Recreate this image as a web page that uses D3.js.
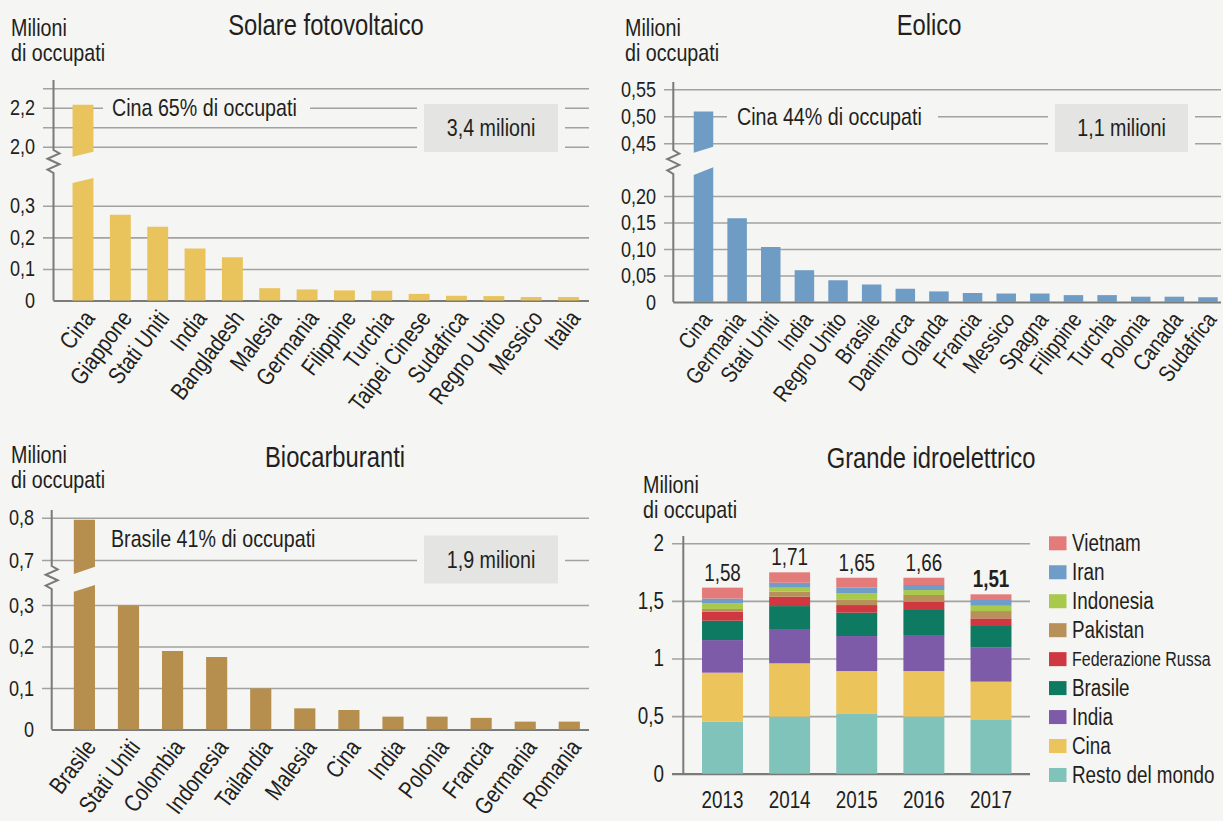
<!DOCTYPE html>
<html><head><meta charset="utf-8">
<script src="https://cdn.jsdelivr.net/npm/d3@7/dist/d3.min.js"></script>
<style>
body{margin:0;background:#f5f5f3;}
svg{display:block;}
text{font-family:"Liberation Sans","Arimo",Arial,sans-serif;fill:#231f20;}
</style></head><body>
<svg id="c" width="1223" height="821"></svg>
<script>
// ---------------- DATA ----------------
const solarCats = ["Cina","Giappone","Stati Uniti","India","Bangladesh","Malesia","Germania","Filippine","Turchia","Taipei Cinese","Sudafrica","Regno Unito","Messico","Italia"];
const solarVals = [2.216,0.272,0.234,0.165,0.137,0.039,0.035,0.032,0.031,0.021,0.015,0.014,0.011,0.011];
const solarTicksLow = [0,0.1,0.2,0.3];
const solarLabelsLow = ["0","0,1","0,2","0,3"];
const solarTicksUp = [2.0,2.1,2.2,2.3];
const solarLabelsUp = ["2,0","","2,2",""];

const windCats = ["Cina","Germania","Stati Uniti","India","Regno Unito","Brasile","Danimarca","Olanda","Francia","Messico","Spagna","Filippine","Turchia","Polonia","Canada","Sudafrica"];
const windVals = [0.509,0.158,0.104,0.060,0.041,0.033,0.025,0.020,0.017,0.016,0.016,0.013,0.013,0.010,0.010,0.009];
const windTicksLow = [0,0.05,0.10,0.15,0.20];
const windLabelsLow = ["0","0,05","0,10","0,15","0,20"];
const windTicksUp = [0.45,0.50,0.55];
const windLabelsUp = ["0,45","0,50","0,55"];

const bioCats = ["Brasile","Stati Uniti","Colombia","Indonesia","Tailandia","Malesia","Cina","India","Polonia","Francia","Germania","Romania"];
const bioVals = [0.795,0.299,0.189,0.175,0.099,0.051,0.047,0.031,0.031,0.028,0.019,0.019];
const bioTicksLow = [0,0.1,0.2,0.3];
const bioLabelsLow = ["0","0,1","0,2","0,3"];
const bioTicksUp = [0.7,0.8];
const bioLabelsUp = ["0,7","0,8"];

const hydroYears = ["2013","2014","2015","2016","2017"];
const hydroTotals = [1.58,1.71,1.65,1.66,1.51];
const hydroTotalLabels = ["1,58","1,71","1,65","1,66","1,51"];
const hydroKeys = ["Resto del mondo","Cina","India","Brasile","Federazione Russa","Pakistan","Indonesia","Iran","Vietnam"];
const hydroResto     = [0.451,0.495,0.524,0.495,0.472];
const hydroCina      = [0.426,0.463,0.367,0.396,0.327];
const hydroIndia     = [0.283,0.298,0.304,0.313,0.295];
const hydroBrasile   = [0.168,0.199,0.203,0.217,0.188];
const hydroRussia    = [0.078,0.081,0.066,0.072,0.066];
const hydroPakistan  = [0.024,0.044,0.049,0.058,0.064];
const hydroIndonesia = [0.048,0.035,0.052,0.043,0.046];
const hydroIran      = [0.042,0.043,0.050,0.044,0.050];
const hydroVietnam   = [0.095,0.090,0.086,0.063,0.049];
const hydroTicks = [0,0.5,1,1.5,2];
const hydroTickLabels = ["0","0,5","1","1,5","2"];
const hydroColors = ["#7fc3ba","#ecc45c","#7e5ba8","#0f7a62","#cf3840","#b8915a","#a8c94c","#6f9cc8","#e27b79"];

// ---------------- DRAW ----------------
const BG = "#f5f5f3", GRID = "#a2a2a0", AXIS = "#7a7a78", TXT = "#231f20";
const SX = 0.82; // horizontal condensing of the type
const svg = d3.select("#c");
svg.append("rect").attr("width",1223).attr("height",821).attr("fill",BG);

function txt(x, y, s, size, anchor, weight) {
  return svg.append("text").attr("x",x).attr("y",y).attr("font-size",size)
    .attr("text-anchor",anchor||"start").attr("font-weight",weight||"normal").text(s);
}

function drawBroken(o) {
  const g = svg.append("g");
  const x = d3.scalePoint().domain(o.cats).range(o.xRange);
  const bw = x.step() * o.barFrac;
  const yL = d3.scaleLinear().domain(o.lowDomain).range(o.lowRange);
  const yU = d3.scaleLinear().domain(o.upDomain).range(o.upRange);
  const gw = o.gridX1 - o.gridX0;
  const mk = (scale, ticks, labels) => {
    const a = g.append("g").attr("transform",`translate(${o.gridX0},0)`)
      .call(d3.axisLeft(scale).tickValues(ticks).tickSize(-gw).tickPadding(8).tickFormat((d,i)=>labels[i]));
    a.attr("font-family",null).attr("font-size",null);
    a.select(".domain").remove();
    a.selectAll(".tick line").attr("stroke",GRID).attr("stroke-width",1.6);
    a.selectAll(".tick text").attr("font-size",22).attr("fill",TXT);
    return a;
  };
  const aL = mk(yL, o.ticksLow, o.labelsLow);
  mk(yU, o.ticksUp, o.labelsUp);
  aL.selectAll(".tick").filter(d=>d===0).select("line")
    .attr("x1", o.axisX - o.gridX0).attr("stroke",AXIS).attr("stroke-width",2.2);
  // annotation background + text
  const ny = o.note.y(yU);
  g.append("rect").attr("x",o.note.bg0).attr("y",ny-11).attr("width",o.note.bg1-o.note.bg0).attr("height",22).attr("fill",BG);
  g.append("text").attr("x",o.note.x).attr("y",ny).attr("dy","0.35em").attr("font-size",24).text(o.note.text);
  // box
  const b = o.box;
  g.append("rect").attr("x",b.x0-7).attr("y",b.yc-28).attr("width",b.x1-b.x0+14).attr("height",56).attr("fill",BG);
  g.append("rect").attr("x",b.x0).attr("y",b.yc-24).attr("width",b.x1-b.x0).attr("height",48).attr("fill","#e4e4e2");
  g.append("text").attr("x",(b.x0+b.x1)/2).attr("y",b.yc).attr("dy","0.35em").attr("text-anchor","middle").attr("font-size",24).text(b.text);
  // bars
  const data = o.cats.map((c,i)=>({c, v:o.vals[i]}));
  const thr = o.lowDomain[1]*1.4;
  g.selectAll("path.bar").data(data).enter().append("path").attr("fill",o.color)
    .attr("d", d => {
      const x0 = x(d.c)-bw/2, x1 = x(d.c)+bw/2, y0 = yL(0);
      if (d.v <= thr) return `M${x0},${y0}V${yL(d.v)}H${x1}V${y0}Z`;
      const k = o.brk;
      return `M${x0},${y0}V${k.loL}L${x1},${k.loR}V${y0}Z` +
             `M${x0},${k.upL}V${yU(d.v)}H${x1}V${k.upR}Z`;
    });
  // axis line with zigzag
  const ax = o.axisX, z0 = o.brk.z0, z1 = o.brk.z1, h = z1 - z0;
  g.append("path").attr("fill","none").attr("stroke",AXIS).attr("stroke-width",2).attr("stroke-linejoin","miter")
    .attr("d", `M${ax},${o.axisTop}V${z0}L${ax+6},${z0+h*0.15}L${ax-6},${z0+h*0.38}L${ax+6},${z0+h*0.62}L${ax-6},${z0+h*0.85}L${ax},${z1}V${yL(0)}`);
  // x labels
  g.selectAll("text.xl").data(o.cats).enter().append("text")
    .attr("text-anchor","end").attr("font-size",o.lsize).attr("dy","0.35em")
    .attr("transform", d => `translate(${x(d)+o.ldx},${yL(0)+o.ldy}) rotate(-53)`)
    .text(d=>d);
}

// Titles / unit labels
txt(326,35,"Solare fotovoltaico",29,"middle");
txt(929,35,"Eolico",29,"middle");
txt(335,467,"Biocarburanti",29,"middle");
txt(931,468,"Grande idroelettrico",29,"middle");
[[11,36],[625,36],[11,463],[643,493]].forEach(([x,y])=>{
  txt(x,y,"Milioni",24); txt(x,y+25,"di occupati",24);
});

drawBroken({
  cats: solarCats, vals: solarVals, color:"#e9c45c",
  xRange:[83,568.5], barFrac:0.56, gridX0:43, gridX1:589, axisX:53.5, axisTop:80,
  lowDomain:[0,0.3], lowRange:[300.5,205.8], upDomain:[2.0,2.3], upRange:[146.7,88.3],
  ticksLow:solarTicksLow, labelsLow:solarLabelsLow, ticksUp:solarTicksUp, labelsUp:solarLabelsUp,
  brk:{upL:156.7, upR:151.7, loL:183, loR:178, z0:150, z1:173},
  note:{text:"Cina 65% di occupati", y:s=>s(2.2), x:112, bg0:103, bg1:310},
  box:{text:"3,4 milioni", x0:424, x1:558, yc:128},
  ldx:6, ldy:13, lsize:24
});
drawBroken({
  cats: windCats, vals: windVals, color:"#6f9cc4",
  xRange:[703.5,1208], barFrac:0.58, gridX0:664, gridX1:1221, axisX:673.3, axisTop:82,
  lowDomain:[0,0.2], lowRange:[302,196], upDomain:[0.45,0.55], upRange:[143.3,89.3],
  ticksLow:windTicksLow, labelsLow:windLabelsLow, ticksUp:windTicksUp, labelsUp:windLabelsUp,
  brk:{upL:152.7, upR:146.7, loL:175, loR:167.3, z0:150, z1:174},
  note:{text:"Cina 44% di occupati", y:s=>s(0.5), x:737, bg0:727, bg1:938},
  box:{text:"1,1 milioni", x0:1055, x1:1188, yc:128},
  ldx:3, ldy:13, lsize:23
});
drawBroken({
  cats: bioCats, vals: bioVals, color:"#b68f4f",
  xRange:[84.4,569.3], barFrac:0.48, gridX0:42, gridX1:589, axisX:51.7, axisTop:510,
  lowDomain:[0,0.3], lowRange:[729.5,605], upDomain:[0.7,0.8], upRange:[560,517.7],
  ticksLow:bioTicksLow, labelsLow:bioLabelsLow, ticksUp:bioTicksUp, labelsUp:bioLabelsUp,
  brk:{upL:574, upR:566.7, loL:591.7, loR:585, z0:566, z1:589},
  note:{text:"Brasile 41% di occupati", y:s=>s(0.75), x:111, bg0:105, bg1:105},
  box:{text:"1,9 milioni", x0:424, x1:558, yc:559.5},
  ldx:6, ldy:13, lsize:24
});

// Hydro stacked
(function(){
  const g = svg.append("g");
  const series = [hydroResto,hydroCina,hydroIndia,hydroBrasile,hydroRussia,hydroPakistan,hydroIndonesia,hydroIran,hydroVietnam];
  const rows = hydroYears.map((y,i)=>{ const r={year:y}; hydroKeys.forEach((k,j)=>r[k]=series[j][i]); return r; });
  const x = d3.scalePoint().domain(hydroYears).range([722.5,991]);
  const bw = x.step()*0.61;
  const y = d3.scaleLinear().domain([0,2]).range([773.7,543.3]);
  const color = d3.scaleOrdinal().domain(hydroKeys).range(hydroColors);
  const a = g.append("g").attr("transform","translate(672,0)")
    .call(d3.axisLeft(y).tickValues(hydroTicks).tickSize(-358).tickPadding(8).tickFormat((d,i)=>hydroTickLabels[i]));
  a.attr("font-family",null).attr("font-size",null);
  a.select(".domain").remove();
  a.selectAll(".tick line").attr("stroke",GRID).attr("stroke-width",1.6);
  a.selectAll(".tick text").attr("font-size",23).attr("fill",TXT);
  a.selectAll(".tick").filter(d=>d===0).select("line").attr("stroke",AXIS).attr("stroke-width",2.2);
  const st = d3.stack().keys(hydroKeys)(rows);
  g.selectAll("g.s").data(st).enter().append("g").attr("fill",d=>color(d.key))
    .selectAll("rect").data(d=>d).enter().append("rect")
    .attr("x",d=>x(d.data.year)-bw/2).attr("width",bw)
    .attr("y",d=>y(d[1])).attr("height",d=>y(d[0])-y(d[1]));
  g.append("line").attr("x1",683.3).attr("x2",683.3).attr("y1",536).attr("y2",y(0)).attr("stroke",AXIS).attr("stroke-width",2);
  const tops = st[st.length-1];
  g.selectAll("text.tot").data(hydroYears).enter().append("text")
    .attr("x",d=>x(d)).attr("y",(d,i)=>y(tops[i][1])-7).attr("text-anchor","middle").attr("font-size",23)
    .attr("font-weight",(d,i)=>i===hydroYears.length-1?"bold":"normal").text((d,i)=>hydroTotalLabels[i]);
  g.selectAll("text.yr").data(hydroYears).enter().append("text")
    .attr("x",d=>x(d)).attr("y",808).attr("text-anchor","middle").attr("font-size",23).text(d=>d);
  // legend
  const leg = hydroKeys.slice().reverse();
  const lg = g.selectAll("g.lg").data(leg).enter().append("g")
    .attr("transform",(d,i)=>`translate(1049,${543.3+i*28.96})`);
  lg.append("rect").attr("x",0).attr("y",-7).attr("width",17.5).attr("height",14).attr("fill",d=>color(d));
  lg.append("text").attr("x",23).attr("dy","0.35em")
    .attr("font-size",d=>d==="Federazione Russa"?19.5:23).text(d=>d);
})();

// condense all type horizontally (narrow grotesque look)
svg.selectAll("text").each(function(){
  const t = d3.select(this);
  const x = +t.attr("x") || 0, y = +t.attr("y") || 0;
  const tr = t.attr("transform") || "";
  t.attr("transform", `${tr} translate(${x},${y}) scale(${SX},1)`).attr("x",0).attr("y",0);
});
</script>
</body></html>
